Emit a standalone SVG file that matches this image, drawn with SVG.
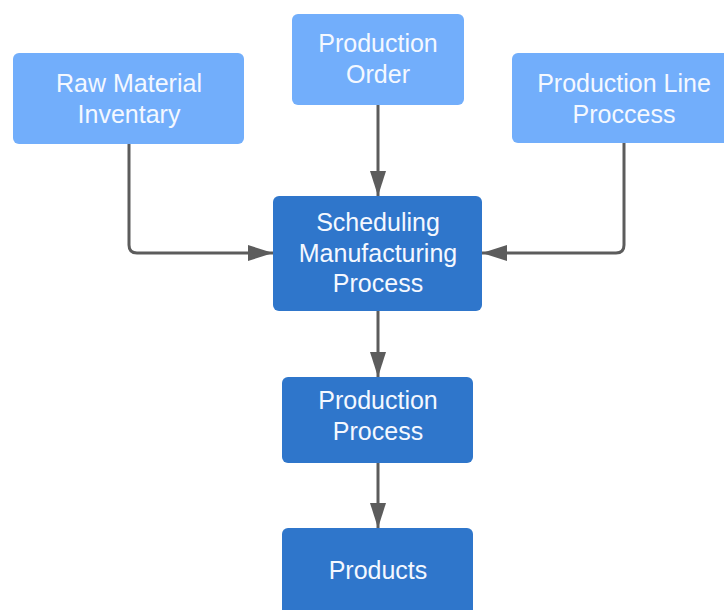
<svg xmlns="http://www.w3.org/2000/svg" width="724" height="610" viewBox="0 0 724 610">
<defs>
<style>
.light{fill:#72aefb;}
.dark{fill:#2f76cb;}
.t{font-family:"Liberation Sans",Arial,sans-serif;font-size:25px;fill:#f4f8ff;text-anchor:middle;}
.c{fill:none;stroke:#5c5c5c;stroke-width:3;stroke-linejoin:round;}
</style>
<marker id="ah" viewBox="0 0 25 16" refX="25" refY="8" markerWidth="25" markerHeight="16" markerUnits="userSpaceOnUse" orient="auto">
<path d="M0,0 L25,8 L0,16 Z" fill="#5c5c5c"/>
</marker>
</defs>
<rect width="724" height="610" fill="#ffffff"/>
<g id="connectors">
<path class="c" d="M129,144 V245 Q129,253 137,253 H273" marker-end="url(#ah)"/>
<path class="c" d="M378,105 V196" marker-end="url(#ah)"/>
<path class="c" d="M624,143 V245 Q624,253 616,253 H482" marker-end="url(#ah)"/>
<path class="c" d="M378,311 V377" marker-end="url(#ah)"/>
<path class="c" d="M378,463 V528" marker-end="url(#ah)"/>
</g>
<g id="raw-material">
<rect class="light" x="13" y="53" width="231" height="91" rx="6"/>
<text class="t" x="129" y="92">Raw Material</text>
<text class="t" x="129" y="123">Inventary</text>
</g>
<g id="production-order">
<rect class="light" x="292" y="14" width="172" height="91" rx="6"/>
<text class="t" x="378" y="52">Production</text>
<text class="t" x="378" y="83">Order</text>
</g>
<g id="production-line">
<rect class="light" x="512" y="53" width="231" height="90" rx="6"/>
<text class="t" x="624" y="92">Production Line</text>
<text class="t" x="624" y="123">Proccess</text>
</g>
<g id="scheduling">
<rect class="dark" x="273" y="196" width="209" height="115" rx="6"/>
<text class="t" x="378" y="231">Scheduling</text>
<text class="t" x="378" y="262">Manufacturing</text>
<text class="t" x="378" y="292">Process</text>
</g>
<g id="production-process">
<rect class="dark" x="282" y="377" width="191" height="86" rx="6"/>
<text class="t" x="378" y="409">Production</text>
<text class="t" x="378" y="440">Process</text>
</g>
<g id="products">
<rect class="dark" x="282" y="528" width="191" height="100" rx="6"/>
<text class="t" x="378" y="579">Products</text>
</g>
</svg>
